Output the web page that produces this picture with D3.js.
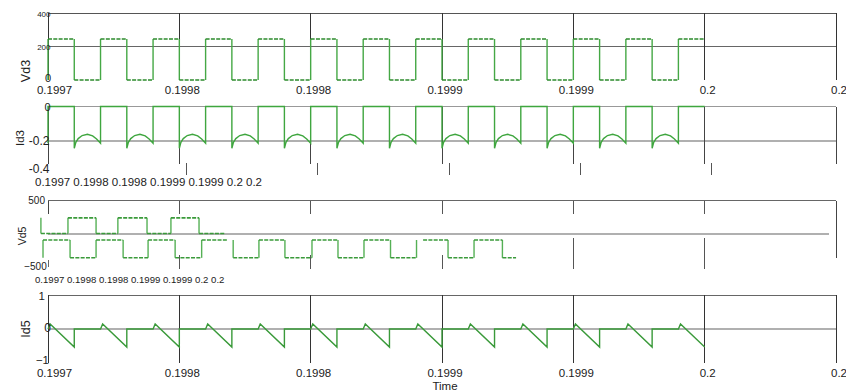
<!DOCTYPE html>
<html>
<head>
<meta charset="utf-8">
<script src="https://cdn.jsdelivr.net/npm/d3@7"></script>
<style>
  body { margin: 0; background: #fff; }
  svg { display: block; font-family: "Liberation Sans", Arial, sans-serif; }
</style>
</head>
<body>
<div id="chart"></div>
<script>
// time is kept in microseconds after t = 0.1997 s
var timeTicks = [0, 50, 100, 150, 200, 250, 300]
var timeLabels = ["0.1997", "0.1998", "0.1998", "0.1999", "0.1999", "0.2", "0.2"]

// Vd3 (V): level held from each switching instant on
var vd3Time = [0, 0, 10, 20, 30, 40, 50, 60, 70, 80, 90, 100, 110, 120, 130, 140, 150, 160, 170, 180, 190, 200, 210, 220, 230, 240, 250]
var vd3Value = [0, 245, 0, 245, 0, 245, 0, 245, 0, 245, 0, 245, 0, 245, 0, 245, 0, 245, 0, 245, 0, 245, 0, 245, 0, 245, 245]

// Id3 (A)
var id3Time = [
    0, 0,
    10, 10, 10.6, 11.5, 13, 15, 17, 18.5, 20, 20,
    30, 30, 30.6, 31.5, 33, 35, 37, 38.5, 40, 40,
    50, 50, 50.6, 51.5, 53, 55, 57, 58.5, 60, 60,
    70, 70, 70.6, 71.5, 73, 75, 77, 78.5, 80, 80,
    90, 90, 90.6, 91.5, 93, 95, 97, 98.5, 100, 100,
    110, 110, 110.6, 111.5, 113, 115, 117, 118.5, 120, 120,
    130, 130, 130.6, 131.5, 133, 135, 137, 138.5, 140, 140,
    150, 150, 150.6, 151.5, 153, 155, 157, 158.5, 160, 160,
    170, 170, 170.6, 171.5, 173, 175, 177, 178.5, 180, 180,
    190, 190, 190.6, 191.5, 193, 195, 197, 198.5, 200, 200,
    210, 210, 210.6, 211.5, 213, 215, 217, 218.5, 220, 220,
    230, 230, 230.6, 231.5, 233, 235, 237, 238.5, 240, 240,
    250
]
var id3Value = [
    -0.215, 0,
    0, -0.245, -0.21, -0.188, -0.17, -0.163, -0.172, -0.19, -0.215, 0,
    0, -0.245, -0.21, -0.188, -0.17, -0.163, -0.172, -0.19, -0.215, 0,
    0, -0.245, -0.21, -0.188, -0.17, -0.163, -0.172, -0.19, -0.215, 0,
    0, -0.245, -0.21, -0.188, -0.17, -0.163, -0.172, -0.19, -0.215, 0,
    0, -0.245, -0.21, -0.188, -0.17, -0.163, -0.172, -0.19, -0.215, 0,
    0, -0.245, -0.21, -0.188, -0.17, -0.163, -0.172, -0.19, -0.215, 0,
    0, -0.245, -0.21, -0.188, -0.17, -0.163, -0.172, -0.19, -0.215, 0,
    0, -0.245, -0.21, -0.188, -0.17, -0.163, -0.172, -0.19, -0.215, 0,
    0, -0.245, -0.21, -0.188, -0.17, -0.163, -0.172, -0.19, -0.215, 0,
    0, -0.245, -0.21, -0.188, -0.17, -0.163, -0.172, -0.19, -0.215, 0,
    0, -0.245, -0.21, -0.188, -0.17, -0.163, -0.172, -0.19, -0.215, 0,
    0, -0.245, -0.21, -0.188, -0.17, -0.163, -0.172, -0.19, -0.215, 0,
    0
]

// Vd5 (V): two traces, level held from each instant, null = trace broken
var vd5aTime = [-2.7, -2.7, 7.6, 18.3, 26.6, 37.7, 46.8, 57.5, 67.4]
var vd5aValue = [245, 12, 245, 12, 245, 12, 245, 12, 12]
var vd5bTime = [-1.9, -1.9, 8.4, 18.3, 28.6, 38.1, 48.4, 58.5, 68.1,
    70.5, 70.5, 80.3, 90.2, 100.5, 110.4, 120.3, 130.4, 140.3, 140.3,
    142.8, 152.3, 162.2, 173.0, 178.2]
var vd5bValue = [-350, -85, -350, -85, -350, -85, -350, -85, null,
    -85, -350, -85, -350, -85, -350, -85, -350, -85, null,
    -85, -350, -85, -350, -350]

// Id5 (A)
var id5Time = [
    0, 0.8, 10, 10,
    20, 20.8, 30, 30,
    40, 40.8, 50, 50,
    60, 60.8, 70, 70,
    80, 80.8, 90, 90,
    100, 100.8, 110, 110,
    120, 120.8, 130, 130,
    140, 140.8, 150, 150,
    160, 160.8, 170, 170,
    180, 180.8, 190, 190,
    200, 200.8, 210, 210,
    220, 220.8, 230, 230,
    240, 240.8, 250
]
var id5Value = [
    0, 0.15, -0.53, 0,
    0, 0.15, -0.53, 0,
    0, 0.15, -0.53, 0,
    0, 0.15, -0.53, 0,
    0, 0.15, -0.53, 0,
    0, 0.15, -0.53, 0,
    0, 0.15, -0.53, 0,
    0, 0.15, -0.53, 0,
    0, 0.15, -0.53, 0,
    0, 0.15, -0.53, 0,
    0, 0.15, -0.53, 0,
    0, 0.15, -0.53, 0,
    0, 0.15, -0.53
]

var vd3Ticks = [0, 200, 400]
var id3Ticks = [-0.4, -0.2, 0]
var vd5Ticks = [-500, 500]
var id5Ticks = [-1, 0, 1]

var width = 846, height = 391
var svg = d3.select("#chart").append("svg")
    .attr("width", width)
    .attr("height", height)

var x = d3.scaleLinear().domain([0, 300]).range([48, 836])
var y1 = d3.scaleLinear().domain([0, 400]).range([80, 13])
var y2 = d3.scaleLinear().domain([-0.4, 0]).range([174.8, 106.5])
var y3 = d3.scaleLinear().domain([-500, 500]).range([267.9, 200.7])
var y4 = d3.scaleLinear().domain([-1, 1]).range([363, 295])

var grid = svg.append("g").attr("shape-rendering", "crispEdges")

function hline(yy, x0, x1, color, w) {
    grid.append("line").attr("x1", x0).attr("x2", x1).attr("y1", yy).attr("y2", yy)
        .attr("stroke", color).attr("stroke-width", w)
}
function vline(xx, y0, yy1, color) {
    grid.append("line").attr("x1", xx).attr("x2", xx).attr("y1", y0).attr("y2", yy1)
        .attr("stroke", color).attr("stroke-width", 1)
}

// panel frames and grid
hline(y1(400), 48, 836, "#555", 1)
hline(y1(200), 48, 836, "#666", 1)
timeTicks.forEach(t => vline(x(t), y1(400), y1(0), "#333"))

hline(y2(0), 48, 836, "#999", 1)
hline(y2(-0.2), 48, 836, "#b0b0b0", 2)
timeTicks.forEach(t => vline(x(t), y2(0), 164, "#444"))
timeTicks.slice(1, 6).forEach(t => vline(x(t) + 7, 163, 175, "#555"))

hline(y3(500), 48, 836, "#666", 1)
hline(y3(0), 48, 829, "#b0b0b0", 2)
vline(x(0), y3(500), 214, "#444")
vline(x(0), 260, 267, "#666")
var lowerStart = [255, 255, 255, 238, 238]
timeTicks.slice(1, 6).forEach((t, i) => {
    vline(x(t), y3(500), 214, "#555")
    vline(x(t), lowerStart[i], 269, "#555")
})
vline(x(300), y3(500), 258, "#444")

hline(y4(1), 48, 836, "#666", 1)
hline(y4(0), 48, 836, "#b0b0b0", 2)
timeTicks.forEach(t => vline(x(t), y4(1), y4(-1), "#333"))

// traces
function stepPieces(times, values) {
    var flats = [], edges = []
    for (var i = 0; i < times.length - 1; i++) {
        var v0 = values[i], v1 = values[i + 1]
        if (v0 == null) continue
        if (times[i + 1] > times[i]) flats.push([times[i], times[i + 1], v0])
        if (v1 != null && v1 !== v0) edges.push([times[i + 1], v0, v1])
    }
    return { flats: flats, edges: edges }
}

function drawStep(times, values, y, flatColor, edgeColor) {
    var p = stepPieces(times, values)
    var g = svg.append("g")
    g.selectAll(".edge").data(p.edges).enter().append("line")
        .attr("x1", d => x(d[0])).attr("x2", d => x(d[0]))
        .attr("y1", d => y(d[1])).attr("y2", d => y(d[2]))
        .attr("stroke", edgeColor).attr("stroke-width", 1.4)
    g.selectAll(".flat").data(p.flats).enter().append("line")
        .attr("x1", d => x(d[0])).attr("x2", d => x(d[1]))
        .attr("y1", d => y(d[2])).attr("y2", d => y(d[2]))
        .attr("stroke", flatColor).attr("stroke-width", 1.6)
        .attr("stroke-dasharray", "4 1.3")
}

drawStep(vd3Time, vd3Value, y1, "#2c8a2c", "#45a845")
drawStep(vd5aTime, vd5aValue, y3, "#3a9a3a", "#55b055")
drawStep(vd5bTime, vd5bValue, y3, "#3a9a3a", "#55b055")

var id3Line = d3.line().x(d => x(d[0])).y(d => y2(d[1]))
svg.append("path")
    .datum(d3.zip(id3Time, id3Value))
    .attr("fill", "none")
    .attr("stroke", "#3fa63f")
    .attr("stroke-width", 1.4)
    .attr("d", id3Line)

var id5Line = d3.line().x(d => x(d[0])).y(d => y4(d[1]))
svg.append("path")
    .datum(d3.zip(id5Time, id5Value))
    .attr("fill", "none")
    .attr("stroke", "#3a9a3a")
    .attr("stroke-width", 1.4)
    .attr("d", id5Line)

// axes text
function timeAxis(yy) {
    var g = svg.append("g")
        .attr("transform", "translate(0," + yy + ")")
        .call(d3.axisBottom(x).tickValues(timeTicks).tickFormat((d, i) => timeLabels[i]).tickSize(0))
    g.select(".domain").remove()
    g.selectAll("text")
        .attr("y", 13.5).attr("dy", 0)
        .attr("x", (d, i) => i === 0 ? 6 : 2.5)
        .attr("font-size", 11.5).attr("fill", "#222")
        .attr("font-family", null)
}
timeAxis(80)
timeAxis(363)

function valueAxis(y, ticks, fmt, sizes, nudges, xs) {
    var g = svg.append("g")
        .attr("transform", "translate(48,0)")
        .call(d3.axisLeft(y).tickValues(ticks).tickFormat(fmt).tickSize(0))
    g.select(".domain").remove()
    g.selectAll("text")
        .attr("x", (d, i) => xs[i])
        .attr("dy", (d, i) => (0.35 * sizes[i] + nudges[i]) + "px")
        .attr("font-size", (d, i) => sizes[i])
        .attr("fill", "#222")
        .attr("font-family", null)
}
valueAxis(y1, vd3Ticks, d3.format("d"), [11, 8, 8], [-2.3, 0, 0.3], [3, 2.5, 2.5])
valueAxis(y2, id3Ticks, d => d === 0 ? "0" : d3.format(".1f")(d).replace("−", "-"), [12, 12, 11], [-7, 0, 0.2], [1.5, 1.5, 2.5])
valueAxis(y3, vd5Ticks, d3.format("d"), [10, 10], [-1.9, -0.7], [-1.3, -3])
valueAxis(y4, id5Ticks, d3.format("d"), [11.5, 12, 11.5], [-3.7, -1.3, 0], [1, 3, -3])

// tick labels that the source packed into one row
svg.append("text").attr("x", 35).attr("y", 186)
    .attr("font-size", 11.5).attr("fill", "#222")
    .text(timeLabels.join(" "))
svg.append("text").attr("x", 35).attr("y", 283)
    .attr("font-size", 9.6).attr("fill", "#222")
    .text(timeLabels.join(" "))

// axis titles
function yTitle(txt, cx, cy, size) {
    svg.append("text")
        .attr("transform", "translate(" + cx + "," + cy + ") rotate(-90)")
        .attr("text-anchor", "middle")
        .attr("dy", "0.35em")
        .attr("font-size", size)
        .attr("fill", "#222")
        .text(txt)
}
yTitle("Vd3", 26, 71, 12.5)
yTitle("Id3", 20, 138, 11.5)
yTitle("Vd5", 22, 236, 10.5)
yTitle("Id5", 26, 329, 12.5)

svg.append("text")
    .attr("x", 445).attr("y", 390)
    .attr("text-anchor", "middle")
    .attr("font-size", 11.5).attr("fill", "#222")
    .text("Time")
</script>
</body>
</html>
